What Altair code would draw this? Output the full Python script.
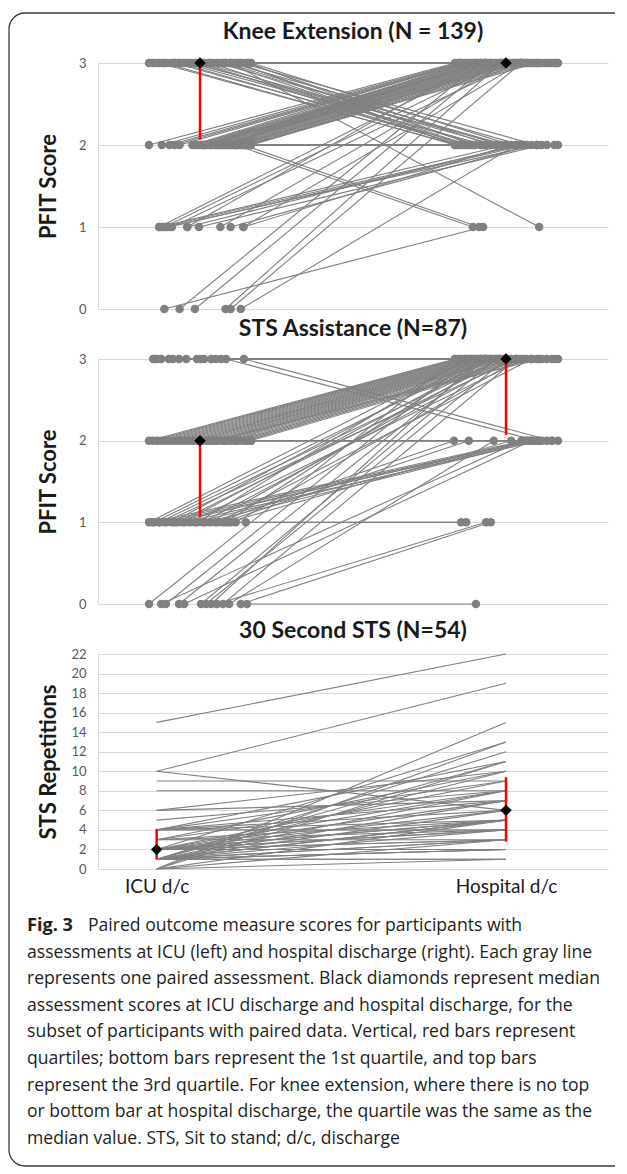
import altair as alt
import pandas as pd

# ---------------- Panel 1: Knee Extension (ICU x, Hospital x) per transition ----------------
knee_3_to_3 = [(1.00, 7.50), (1.08, 8.90), (1.16, 7.90), (1.25, 8.60), (1.33, 9.00), (1.42, 8.30),
               (1.50, 8.75), (1.58, 7.10), (1.66, 8.45), (1.75, 8.95), (1.83, 8.15), (1.92, 8.80),
               (2.08, 8.55), (2.17, 7.30), (2.25, 8.70), (2.33, 9.02), (2.42, 8.25), (2.50, 8.85),
               (2.58, 8.40), (2.67, 7.70), (2.75, 8.65), (2.83, 8.50), (2.92, 8.35), (3.00, 8.95)]
knee_2_to_3 = [(1.00, 7.00), (1.25, 7.05), (1.40, 7.10), (1.50, 7.15), (1.60, 7.20), (1.85, 7.10),
               (1.90, 7.25), (1.95, 7.30), (2.00, 7.35), (2.05, 7.40), (2.10, 7.45), (2.15, 7.50),
               (2.20, 7.55), (2.25, 7.60), (2.30, 7.65), (2.35, 7.70), (2.40, 7.75), (2.45, 7.80),
               (2.50, 7.85), (2.55, 7.90), (2.60, 7.95), (2.65, 8.00), (2.70, 8.05), (2.75, 8.10),
               (2.80, 8.15), (2.85, 8.20), (2.90, 8.30), (2.95, 8.40), (3.00, 8.50), (2.08, 7.60),
               (2.22, 7.20), (2.38, 8.00), (2.52, 7.40), (2.72, 8.25), (2.97, 8.60)]
knee_3_to_2 = [(1.30, 7.00), (1.50, 7.30), (1.70, 7.60), (1.90, 7.50), (2.05, 7.80), (2.20, 7.20),
               (2.35, 8.00), (2.50, 7.90), (2.60, 8.30), (2.70, 7.40), (2.80, 8.60), (2.90, 7.70),
               (3.00, 8.10), (1.20, 7.05), (1.60, 7.15), (2.00, 7.10), (2.45, 7.25), (2.75, 7.00),
               (2.95, 7.35), (1.80, 8.00)]
knee_2_to_2 = [(1.95, 7.05), (2.10, 7.55), (2.30, 8.20), (2.45, 8.40), (2.60, 8.62), (2.75, 8.80),
               (2.90, 8.95), (3.00, 9.02)]
knee_1_to_3 = [(1.20, 7.60), (1.30, 7.90), (1.45, 8.20), (1.75, 7.40), (2.40, 8.00), (2.85, 8.30)]
knee_1_to_2 = [(1.20, 8.00), (1.25, 8.30), (1.35, 8.60), (1.40, 8.40), (1.75, 8.20), (1.98, 8.70),
               (2.60, 8.50), (2.85, 8.10)]
knee_0_to_3 = [(1.60, 7.50), (1.90, 7.70), (2.50, 7.90), (2.60, 8.30)]
knee_0_to_2 = [(2.80, 8.20)]
knee_0_to_1 = [(1.30, 7.55)]
knee_2_to_1 = [(2.70, 7.35), (2.85, 7.47)]
knee_3_to_1 = [(2.60, 8.65)]

knee_groups = [(3, 3, knee_3_to_3), (2, 3, knee_2_to_3), (3, 2, knee_3_to_2), (2, 2, knee_2_to_2),
               (1, 3, knee_1_to_3), (1, 2, knee_1_to_2), (0, 3, knee_0_to_3), (0, 2, knee_0_to_2),
               (0, 1, knee_0_to_1), (2, 1, knee_2_to_1), (3, 1, knee_3_to_1)]
knee_median_x = [2.0, 8.0]
knee_median_y = [3, 3]
knee_q_x = [2.0]
knee_q1 = [2.07]
knee_q3 = [3.0]

# ---------------- Panel 2: STS Assistance ----------------
sts_3_to_3 = [(1.08, 7.10), (1.12, 7.40), (1.16, 7.80), (1.24, 8.20), (1.39, 8.50), (1.47, 8.70),
              (1.59, 8.90), (1.73, 9.02), (1.94, 8.00), (2.02, 7.60), (2.08, 8.40), (2.22, 8.80),
              (2.31, 8.60), (2.41, 8.95)]
sts_3_to_2 = [(2.51, 8.60), (2.86, 8.90)]
sts_2_to_3 = [(1.00, 7.00), (1.08, 7.05), (1.16, 7.10), (1.24, 7.15), (1.32, 7.20), (1.40, 7.25),
              (1.48, 7.30), (1.56, 7.35), (1.64, 7.40), (1.72, 7.45), (1.80, 7.50), (1.88, 7.55),
              (1.96, 7.60), (2.04, 7.65), (2.12, 7.70), (2.20, 7.75), (2.28, 7.80), (2.36, 7.85),
              (2.44, 7.90), (2.52, 7.95), (2.60, 8.00), (2.68, 8.10), (2.76, 8.20), (2.84, 8.30),
              (2.92, 8.40), (3.00, 8.50), (2.30, 8.65)]
sts_2_to_2 = [(2.20, 8.40), (2.50, 8.70), (2.70, 8.90), (2.90, 9.02), (3.00, 8.80)]
sts_1_to_3 = [(1.00, 7.30), (1.10, 7.60), (1.20, 7.90), (1.30, 8.20), (1.45, 7.45), (1.55, 8.00),
              (1.65, 7.70), (1.80, 8.35), (1.95, 7.20), (2.05, 8.10), (2.20, 7.85), (2.35, 8.50),
              (2.50, 7.55), (2.70, 8.25)]
sts_1_to_2 = [(1.05, 8.35), (1.20, 8.45), (1.35, 8.55), (1.50, 8.40), (1.70, 8.65), (1.90, 8.50),
              (2.10, 8.60), (2.30, 6.98), (2.45, 7.27), (2.55, 8.10)]
sts_1_to_1 = [(2.60, 7.12), (2.90, 7.22)]
sts_0_to_3 = [(1.00, 7.00), (1.33, 7.30), (1.59, 7.60), (2.02, 7.80), (2.12, 8.00), (2.22, 7.50),
              (2.45, 8.20)]
sts_0_to_2 = [(1.24, 8.30), (1.69, 8.50), (2.57, 7.76)]
sts_0_to_1 = [(2.33, 7.61), (2.80, 7.70)]
sts_0_to_0 = [(2.92, 7.41)]

sts_groups = [(3, 3, sts_3_to_3), (3, 2, sts_3_to_2), (2, 3, sts_2_to_3), (2, 2, sts_2_to_2),
              (1, 3, sts_1_to_3), (1, 2, sts_1_to_2), (1, 1, sts_1_to_1), (0, 3, sts_0_to_3),
              (0, 2, sts_0_to_2), (0, 1, sts_0_to_1), (0, 0, sts_0_to_0)]
sts_median_x = [2.0, 8.0]
sts_median_y = [2, 3]
sts_q_x = [2.0, 8.0]
sts_q1 = [1.07, 2.07]
sts_q3 = [2.0, 3.0]

# ---------------- Panel 3: 30 Second STS (ICU reps, Hospital reps) ----------------
thirty_pairs = [(15, 22), (10, 19), (10, 6), (9, 9), (8, 8), (6, 7), (6, 10), (5, 8),
                (4, 4), (4, 5), (4, 6), (4, 7), (4, 9), (4, 11),
                (3, 3), (3, 4), (3, 5), (3, 8), (3, 10),
                (2, 2), (2, 2), (2, 3), (2, 3), (2, 4), (2, 4), (2, 5), (2, 5), (2, 6), (2, 7),
                (2, 8), (2, 9), (2, 13),
                (1, 1), (1, 1), (1, 2), (1, 2), (1, 2), (1, 3), (1, 3), (1, 4), (1, 5), (1, 5),
                (1, 6), (1, 7), (1, 8), (1, 10), (1, 11), (1, 12),
                (0, 1), (0, 3), (0, 5), (0, 11), (0, 13), (0, 15)]
thirty_x = [1.15, 8.0]          # ICU d/c, Hospital d/c
thirty_median_y = [2, 6]
thirty_q1 = [1.0, 2.8]
thirty_q3 = [4.1, 9.4]

x_labels = ["ICU d/c", "Hospital d/c"]

caption_bold = "Fig. 3"
caption_lines = [
    "Paired outcome measure scores for participants with",
    "assessments at ICU (left) and hospital discharge (right). Each gray line",
    "represents one paired assessment. Black diamonds represent median",
    "assessment scores at ICU discharge and hospital discharge, for the",
    "subset of participants with paired data. Vertical, red bars represent",
    "quartiles; bottom bars represent the 1st quartile, and top bars",
    "represent the 3rd quartile. For knee extension, where there is no top",
    "or bottom bar at hospital discharge, the quartile was the same as the",
    "median value. STS, Sit to stand; d/c, discharge",
]

# ---------------- build tables ----------------
def build_groups(groups):
    rows, pid = [], 0
    for iy, hy, pairs in groups:
        for ix, hx in pairs:
            rows.append({"id": pid, "x": ix, "y": iy})
            rows.append({"id": pid, "x": hx, "y": hy})
            pid += 1
    return pd.DataFrame(rows)

knee_df = build_groups(knee_groups)
sts_df = build_groups(sts_groups)
thirty_rows = []
for i, (a, b) in enumerate(thirty_pairs):
    thirty_rows.append({"id": i, "x": thirty_x[0], "y": a})
    thirty_rows.append({"id": i, "x": thirty_x[1], "y": b})
thirty_df = pd.DataFrame(thirty_rows)

FONT = "Lato"
GRAY = "#808080"
GRID = "#d9d9d9"
SPACING = 50          # gap between plot areas (flush layout)


def y_axis(title, values):
    return alt.Axis(title=title, values=values, format="d", grid=True, gridColor=GRID, gridWidth=1,
                    domain=True, domainColor=GRID, ticks=False, labelOverlap=False,
                    labelSeparation=0, tickCount=len(values),
                    labelFont=FONT, labelFontSize=13, labelColor="#595959", labelPadding=12,
                    titleFont=FONT, titleFontSize=22, titleFontWeight="bold",
                    titleColor="#1a1a1a", titlePadding=8, minExtent=30)


def panel(df, med_x, med_y, q_x, q1, q3, title, ytitle, ydomain, yvalues, height,
          points, xaxis, t_off):
    xs = alt.Scale(domain=[0, 10])
    ys = alt.Scale(domain=ydomain, nice=False, zero=True)
    ax = y_axis(ytitle, yvalues)
    x_enc = alt.X("x:Q", scale=xs, axis=xaxis)
    base = alt.Chart(df)
    layers = [base.mark_line(color=GRAY, strokeWidth=1.1).encode(
        x=x_enc, y=alt.Y("y:Q", scale=ys, axis=ax), detail="id:N")]
    if points:
        layers.append(base.mark_circle(color=GRAY, size=72, opacity=1).encode(
            x=x_enc, y=alt.Y("y:Q", scale=ys, axis=ax)))
    qdf = pd.DataFrame({"x": q_x, "q1": q1, "q3": q3})
    layers.append(alt.Chart(qdf).mark_rule(color="#ff0000", strokeWidth=2.5).encode(
        x=x_enc, y=alt.Y("q1:Q", scale=ys, axis=ax), y2="q3:Q"))
    mdf = pd.DataFrame({"x": med_x, "y": med_y})
    layers.append(alt.Chart(mdf).mark_point(shape="diamond", filled=True, color="black",
                                            size=130, opacity=1).encode(
        x=x_enc, y=alt.Y("y:Q", scale=ys, axis=ax)))
    return alt.layer(*layers).properties(
        width=510, height=height,
        title=alt.TitleParams(title, font=FONT, fontSize=23, fontWeight="bold", color="#1a1a1a",
                              anchor="middle", frame="group", offset=t_off))


p1 = panel(knee_df, knee_median_x, knee_median_y, knee_q_x, knee_q1, knee_q3,
           "Knee Extension (N = 139)", "PFIT Score", [0, 3], [0, 1, 2, 3], 246,
           True, None, 13)
p2 = panel(sts_df, sts_median_x, sts_median_y, sts_q_x, sts_q1, sts_q3,
           "STS Assistance (N=87)", "PFIT Score", [0, 3], [0, 1, 2, 3], 245,
           True, None, 12)

x3_axis = alt.Axis(values=thirty_x, title=None, grid=False, domain=False, ticks=False,
                   labelExpr=f"datum.value < 5 ? '{x_labels[0]}' : '{x_labels[1]}'",
                   labelFont=FONT, labelFontSize=19, labelColor="#1a1a1a", labelPadding=8)
p3 = panel(thirty_df, thirty_x, thirty_median_y, thirty_x, thirty_q1, thirty_q3,
           "30 Second STS (N=54)", "STS Repetitions", [0, 22], list(range(0, 23, 2)), 215,
           False, x3_axis, 5)

# ---------------- caption + figure frame (positions relative to the caption view) ----------------
p1_top = 62                       # page y of first plot area
cap_top = p1_top + 246 + 245 + 215 + 3 * SPACING
first_line = 925 - cap_top
line_step = 26.6

CAP_FONT = "Open Sans"
CAP_SIZE = 17.6
cap_df = pd.DataFrame({"row": list(range(len(caption_lines))), "text": caption_lines})
cap_y = alt.Y("row:Q", axis=None,
              scale=alt.Scale(domain=[0, 8], range=[first_line, first_line + 8 * line_step]))
cap_first = alt.Chart(cap_df).transform_filter("datum.row == 0").mark_text(
    align="left", baseline="middle", font=CAP_FONT, fontSize=CAP_SIZE, color="#231f20", dx=61
).encode(x=alt.value(-71), y=cap_y, text="text:N")
cap_rest = alt.Chart(cap_df).transform_filter("datum.row > 0").mark_text(
    align="left", baseline="middle", font=CAP_FONT, fontSize=CAP_SIZE, color="#231f20"
).encode(x=alt.value(-71), y=cap_y, text="text:N")
cap_bold = alt.Chart(pd.DataFrame({"row": [0], "text": [caption_bold]})).mark_text(
    align="left", baseline="middle", font=CAP_FONT, fontSize=CAP_SIZE + 0.5, fontWeight="bold",
    color="#231f20"
).encode(x=alt.value(-71), y=cap_y, text="text:N")

frame_df = pd.DataFrame({"k": [0]})
frame = alt.Chart(frame_df).mark_rect(
    filled=False, stroke="#3a3a3a", strokeWidth=1.3,
    cornerRadiusTopLeft=16, cornerRadiusBottomLeft=16
).encode(x=alt.value(8 - 97), x2=alt.value(616 - 97),
         y=alt.value(12 - cap_top), y2=alt.value(1165 - cap_top))
frame_cut = alt.Chart(frame_df).mark_rule(color="white", strokeWidth=4).encode(
    x=alt.value(616 - 97), y=alt.value(12 - cap_top - 3), y2=alt.value(1165 - cap_top + 3))

caption = alt.layer(frame, frame_cut, cap_bold, cap_first, cap_rest).properties(
    width=510, height=230)

chart = alt.vconcat(p1, p2, p3, caption, spacing=SPACING, bounds="flush").properties(
    padding={"left": 0, "top": 0, "right": 0, "bottom": 0}
).configure_view(stroke=None)

chart.save("out.html", embed_options={"renderer": "svg", "actions": False})
